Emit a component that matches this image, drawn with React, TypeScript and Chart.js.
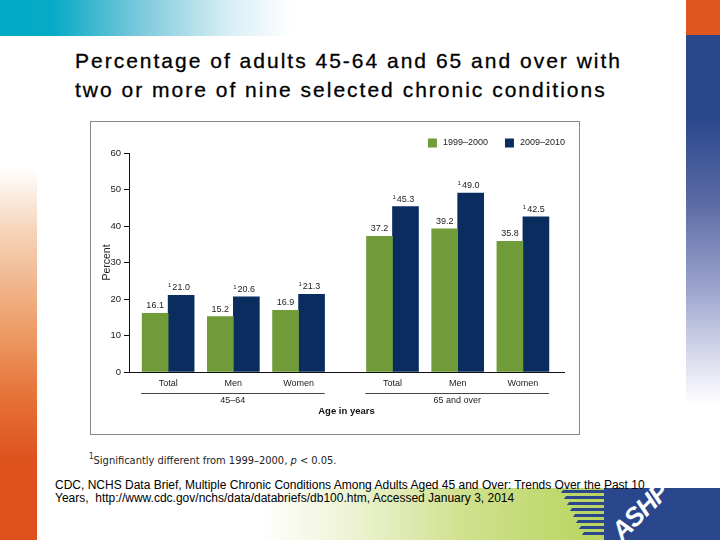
import React, { useEffect, useRef } from "react";
import { Chart, registerables } from "chart.js";

Chart.register(...registerables);

const subgroupLabels = ["Total", "Men", "Women", "Total", "Men", "Women"];
const xPositions = [0, 1, 2, 3.44, 4.44, 5.44];
const ageGroups = ["45–64", "65 and over"];
const ageGroupMembers = [[0, 2], [3, 5]];
const seriesNames = ["1999–2000", "2009–2010"];
const values1999 = [16.1, 15.2, 16.9, 37.2, 39.2, 35.8];
const values2009 = [21.0, 20.6, 21.3, 45.3, 49.0, 42.5];
const significant2009 = [true, true, true, true, true, true];
const yTicks = [0, 10, 20, 30, 40, 50, 60];

const GREEN = "#6f9c38";
const NAVY = "#0b2c5e";
const FONT = '"Liberation Sans", Arial, sans-serif';
const BAR_W = 26;

const annotations = {
  id: "annotations",
  afterDatasetsDraw(chart: any) {
    const { ctx, chartArea, scales } = chart;
    const xs = scales.x;
    ctx.save();
    chart.data.datasets.forEach((ds: any, di: number) => {
      const meta = chart.getDatasetMeta(di);
      meta.data.forEach((bar: any, i: number) => {
        const v = ds.data[i].y;
        const txt = v.toFixed(1);
        ctx.font = `9px ${FONT}`;
        ctx.fillStyle = "#222";
        ctx.textAlign = "center";
        ctx.textBaseline = "alphabetic";
        const ty = bar.y - 5;
        ctx.fillText(txt, bar.x, ty);
        if (di === 1 && significant2009[i]) {
          const w = ctx.measureText(txt).width;
          ctx.font = `6px ${FONT}`;
          ctx.textAlign = "right";
          ctx.fillText("1", bar.x - w / 2 - 1, ty - 3);
        }
      });
    });
    const lineY = 271;
    ctx.strokeStyle = "#444";
    ctx.lineWidth = 1;
    ageGroupMembers.forEach((m, gi) => {
      const x0 = xs.getPixelForValue(xPositions[m[0]]) - BAR_W - 1;
      const x1 = xs.getPixelForValue(xPositions[m[1]]) + BAR_W;
      ctx.beginPath();
      ctx.moveTo(x0, lineY + 0.5);
      ctx.lineTo(x1, lineY + 0.5);
      ctx.stroke();
      ctx.font = `9px ${FONT}`;
      ctx.fillStyle = "#222";
      ctx.textAlign = "center";
      ctx.textBaseline = "middle";
      ctx.fillText(ageGroups[gi], (x0 + x1) / 2, 279);
    });
    ctx.font = `bold 9.5px ${FONT}`;
    ctx.fillStyle = "#111";
    ctx.textAlign = "center";
    ctx.textBaseline = "middle";
    ctx.fillText("Age in years", (chartArea.left + chartArea.right) / 2, 289);
    ctx.font = `9px ${FONT}`;
    ctx.textBaseline = "middle";
    ctx.textAlign = "left";
    const box = 9;
    const gap = 6;
    const between = 17;
    const colors = [GREEN, NAVY];
    const widths = seriesNames.map((n) => ctx.measureText(n).width);
    let total = 0;
    widths.forEach((w, i) => {
      total += box + gap + w + (i < widths.length - 1 ? between : 0);
    });
    let lx = chartArea.right + 1 - total;
    const ly = 21;
    seriesNames.forEach((n, i) => {
      ctx.fillStyle = colors[i];
      ctx.fillRect(lx, ly - box / 2, box, box);
      ctx.fillStyle = "#222";
      ctx.fillText(n, lx + box + gap, ly);
      lx += box + gap + widths[i] + between;
    });
    ctx.restore();
  },
};

function ChartBox() {
  const ref = useRef<HTMLCanvasElement | null>(null);
  useEffect(() => {
    if (!ref.current) return;
    const chart = new Chart(ref.current, {
      type: "bar",
      data: {
        datasets: [
          {
            label: seriesNames[0],
            data: values1999.map((v, i) => ({ x: xPositions[i], y: v })),
            backgroundColor: GREEN,
            barThickness: BAR_W,
          },
          {
            label: seriesNames[1],
            data: values2009.map((v, i) => ({ x: xPositions[i], y: v })),
            backgroundColor: NAVY,
            barThickness: BAR_W,
          },
        ],
      },
      options: {
        responsive: false,
        animation: false,
        devicePixelRatio: 1,
        layout: { padding: { left: 0, right: 15, top: 31, bottom: 0 } },
        plugins: { legend: { display: false }, tooltip: { enabled: false } },
        scales: {
          x: {
            type: "linear",
            offset: false,
            min: -0.6,
            max: 6.07,
            grid: { display: false, drawTicks: false, tickLength: 0 },
            border: { display: true, color: "#111", width: 1 },
            afterBuildTicks: (scale: any) => {
              scale.ticks = xPositions.map((v) => ({ value: v }));
            },
            afterFit: (scale: any) => {
              scale.height = 62;
            },
            ticks: {
              autoSkip: false,
              maxRotation: 0,
              padding: 6,
              color: "#222",
              font: { family: FONT, size: 9 },
              callback: (_v: any, idx: number) => subgroupLabels[idx],
            },
          },
          y: {
            min: 0,
            max: 60,
            afterBuildTicks: (scale: any) => {
              scale.ticks = yTicks.map((v) => ({ value: v }));
            },
            afterFit: (scale: any) => {
              scale.width = 38;
            },
            grid: {
              display: true,
              drawOnChartArea: false,
              drawTicks: true,
              tickLength: 5,
              color: "#111",
            },
            border: { display: true, color: "#111", width: 1 },
            ticks: {
              padding: 3,
              color: "#222",
              font: { family: FONT, size: 9.5 },
            },
            title: {
              display: true,
              text: "Percent",
              color: "#222",
              font: { family: FONT, size: 10.5 },
              padding: { top: 10, bottom: 0 },
            },
          },
        },
      },
      plugins: [annotations],
    } as any);
    return () => chart.destroy();
  }, []);
  return (
    <canvas
      ref={ref}
      width={488}
      height={312}
      style={{ position: "absolute", left: 91, top: 122, width: 488, height: 312 }}
    />
  );
}

export default function App() {
  return (
    <div
      style={{
        position: "fixed",
        left: 0,
        top: 0,
        width: 720,
        height: 540,
        overflow: "hidden",
        background: "#fff",
        fontFamily: '"Liberation Sans", Arial, sans-serif',
      }}
    >
      <div
        style={{
          position: "absolute",
          left: 0,
          top: 0,
          width: 292,
          height: 36,
          background: "linear-gradient(to right, #00a9c6 0%, #06aac6 18%, #7cc9dc 48%, #d6eef4 78%, #ffffff 100%)",
        }}
      />
      <div style={{ position: "absolute", left: 686, top: 0, width: 34, height: 35, background: "#e0561f" }} />
      <div
        style={{
          position: "absolute",
          left: 686,
          top: 35,
          width: 34,
          height: 370,
          background: "linear-gradient(to bottom, #2a468c 0%, #2a468c 22%, #5a6aa4 45%, #9aa2cc 68%, #dcdeee 88%, #ffffff 100%)",
        }}
      />
      <div
        style={{
          position: "absolute",
          left: 0,
          top: 167,
          width: 37,
          height: 373,
          background: "linear-gradient(to bottom, #ffffff 0%, #f5d2b6 18%, #eea06c 42%, #e6763c 60%, #de521e 78%, #de501c 100%)",
        }}
      />
      <div
        style={{
          position: "absolute",
          left: 260,
          top: 488,
          width: 345,
          height: 52,
          background: "linear-gradient(to right, #ffffff 0%, #eef4d6 25%, #cfe08c 60%, #b8d45e 100%)",
        }}
      />
      <div style={{ position: "absolute", left: 604, top: 488, width: 116, height: 52, background: "#2a468c" }} />
      {[0, 1, 2, 3, 4, 5, 6, 7].map((i) => (
        <div
          key={i}
          style={{
            position: "absolute",
            left: 562 + i * 3,
            top: 490 + i * 6,
            width: 44 - i * 2,
            height: 3,
            background: "#2a468c",
            transform: "skewX(-35deg)",
          }}
        />
      ))}
      <div
        style={{
          position: "absolute",
          left: 606,
          top: 496,
          color: "#fff",
          fontWeight: "bold",
          fontStyle: "italic",
          fontSize: 26,
          transform: "rotate(-45deg)",
          fontFamily: '"Liberation Sans", Arial, sans-serif',
          letterSpacing: -1,
        }}
      >
        ASHP
      </div>
      <div
        style={{
          position: "absolute",
          left: 75,
          top: 46,
          fontSize: 21,
          lineHeight: "29px",
          letterSpacing: 2.0,
          color: "#000",
          whiteSpace: "nowrap",
          WebkitTextStroke: "0.3px #000",
        }}
      >
        Percentage of adults 45-64 and 65 and over with
        <br />
        two or more of nine selected chronic conditions
      </div>
      <div
        style={{
          position: "absolute",
          left: 90,
          top: 121,
          width: 490,
          height: 314,
          border: "1px solid #8a8a8a",
          boxSizing: "border-box",
        }}
      />
      <ChartBox />
      <div
        style={{
          position: "absolute",
          left: 89,
          top: 452,
          fontSize: 11,
          color: "#222",
          whiteSpace: "nowrap",
          fontFamily: '"DejaVu Sans Condensed", "DejaVu Sans", sans-serif',
          fontStretch: "condensed",
        }}
      >
        <sup style={{ fontSize: 8 }}>1</sup>Significantly different from 1999–2000, <i>p</i> &lt; 0.05.
      </div>
      <div
        style={{
          position: "absolute",
          left: 55,
          top: 479,
          fontSize: 12,
          lineHeight: "13px",
          color: "#000",
          whiteSpace: "nowrap",
        }}
      >
        CDC, NCHS Data Brief, Multiple Chronic Conditions Among Adults Aged 45 and Over: Trends Over the Past 10
        <br />
        Years,&nbsp; http://www.cdc.gov/nchs/data/databriefs/db100.htm, Accessed January 3, 2014
      </div>
    </div>
  );
}
